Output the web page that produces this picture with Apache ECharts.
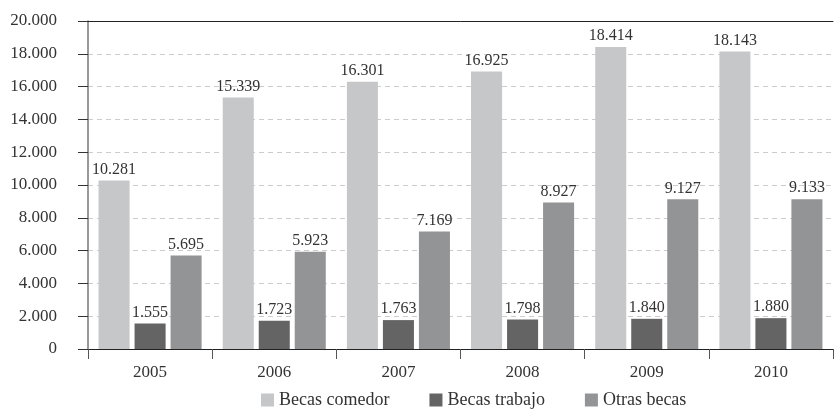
<!DOCTYPE html>
<html>
<head>
<meta charset="utf-8">
<script src="https://cdn.jsdelivr.net/npm/echarts@6/dist/echarts.min.js"></script>
<style>
  html, body { margin: 0; padding: 0; background: #fff; }
  #chart { width: 834px; height: 415px; }
</style>
</head>
<body>
<div id="chart"></div>
<script>
// datos
const years = ['2005', '2006', '2007', '2008', '2009', '2010']
const becasComedor = [10281, 15339, 16301, 16925, 18414, 18143]
const becasTrabajo = [1555, 1723, 1763, 1798, 1840, 1880]
const otrasBecas = [5695, 5923, 7169, 8927, 9127, 9133]

const FONT = 'Liberation Serif'

// 18414 -> "18.414"
function fmt(v) {
  return String(v).replace(/\B(?=(\d{3})+(?!\d))/g, '.')
}

function barSeries(name, data, color) {
  return {
    name: name,
    type: 'bar',
    data: data,
    barGap: '16%',
    barCategoryGap: '17%',
    itemStyle: { color: color },
    label: {
      show: true,
      position: 'top',
      distance: 3,
      formatter: p => fmt(p.value),
      color: '#333',
      fontFamily: FONT,
      fontSize: 16
    }
  }
}

const chart = echarts.init(document.getElementById('chart'))
chart.setOption({
  animation: false,
  textStyle: { fontFamily: FONT },
  grid: { left: 88, right: 1, top: 21, bottom: 66 },
  legend: {
    bottom: 1,
    left: 256,
    itemWidth: 13,
    itemHeight: 13,
    itemGap: 40,
    icon: 'rect',
    textStyle: { fontFamily: FONT, fontSize: 18, color: '#333' },
    data: ['Becas comedor', 'Becas trabajo', 'Otras becas']
  },
  xAxis: [{
    type: 'category',
    data: years,
    axisLine: { lineStyle: { color: '#222', width: 1 } },
    axisTick: { show: true, length: 10, lineStyle: { color: '#555' } },
    axisLabel: { fontFamily: FONT, fontSize: 17, color: '#333', margin: 15 }
  }, {
    // linea superior del marco
    type: 'category',
    position: 'top',
    data: years,
    axisLine: { show: true, lineStyle: { color: '#222' } },
    axisTick: { show: false },
    axisLabel: { show: false }
  }],
  yAxis: {
    type: 'value',
    min: 0,
    max: 20000,
    interval: 2000,
    axisLine: { show: true, lineStyle: { color: '#777', width: 1.5 } },
    axisTick: { show: true, inside: false, length: 10, lineStyle: { color: '#333' } },
    axisLabel: {
      formatter: v => fmt(v),
      fontFamily: FONT,
      fontSize: 17,
      color: '#333',
      margin: 31
    },
    splitLine: { lineStyle: { color: '#ccc', type: [5, 4] } }
  },
  series: [
    barSeries('Becas comedor', becasComedor, '#c6c7c9'),
    barSeries('Becas trabajo', becasTrabajo, '#646465'),
    barSeries('Otras becas', otrasBecas, '#939496')
  ]
})
</script>
</body>
</html>
